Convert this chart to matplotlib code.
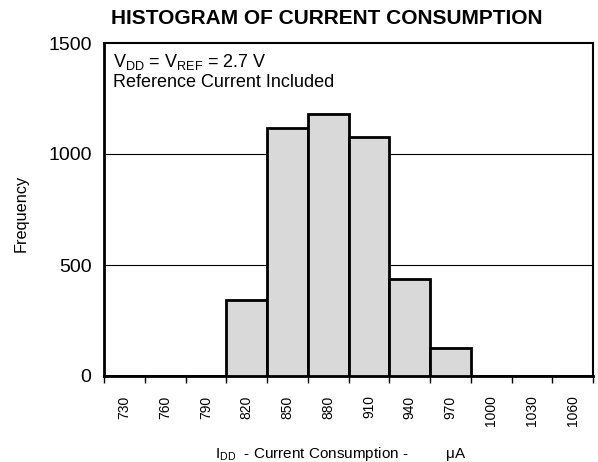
import numpy as np
import matplotlib
matplotlib.use("Agg")
import matplotlib.pyplot as plt

plt.rcParams['font.family'] = ['Liberation Sans', 'DejaVu Sans']

bins = ["730", "760", "790", "820", "850", "880", "910", "940", "970", "1000", "1030", "1060"]
freq = [0, 0, 0, 344, 1118, 1181, 1076, 439, 125, 0, 0, 0]

W, H = 598, 462
fig = plt.figure(figsize=(W / 100, H / 100), dpi=100)
ax = fig.add_axes([104/W, 1 - 376/H, (593-104)/W, (376-43)/H])

x = np.arange(len(bins))
ax.bar(x, freq, width=1.0, align='edge', color='#d9d9d9', edgecolor='black',
       linewidth=2, zorder=3)

ax.set_xlim(0, len(bins))
ax.set_ylim(0, 1500)
ax.set_yticks([0, 500, 1000, 1500])
ax.tick_params(axis='y', length=0, labelsize=14, pad=9)
for v in [500, 1000]:
    ax.axhline(v, color='black', lw=0.8, zorder=1)

# tick marks on bin edges, labels centred under each bin
ax.set_xticks(np.arange(len(bins) + 1))
ax.set_xticklabels([])
ax.set_xticks(x + 0.5, minor=True)
ax.set_xticklabels(bins, minor=True, rotation=90, fontsize=10)
ax.tick_params(axis='x', which='major', length=5, width=1, direction='out')
ax.tick_params(axis='x', which='minor', length=0, pad=14)

for s in ['top', 'right']:
    ax.spines[s].set_linewidth(1.5)
for s in ['left', 'bottom']:
    ax.spines[s].set_linewidth(2)

fig.text(113/W, 1 - 67/H, r"V$_{\mathregular{DD}}$ = V$_{\mathregular{REF}}$ = 2.7 V",
         ha='left', va='baseline', fontsize=13)
fig.text(113/W, 1 - 87/H, "Reference Current Included",
         ha='left', va='baseline', fontsize=13)

fig.text(327/W, 1 - 19/H, "HISTOGRAM OF CURRENT CONSUMPTION",
         ha='center', va='center', fontsize=15, fontweight='bold')
fig.text(21/W, 1 - 213/H, "Frequency", rotation=90, ha='center',
         va='center', fontsize=11.7)
fig.text(215/W, 1 - 458/H,
         r"I$_{\mathregular{DD}}$  - Current Consumption -         $\mathregular{\mu}$A",
         ha='left', va='baseline', fontsize=11)

fig.savefig("out.png", dpi=100)
